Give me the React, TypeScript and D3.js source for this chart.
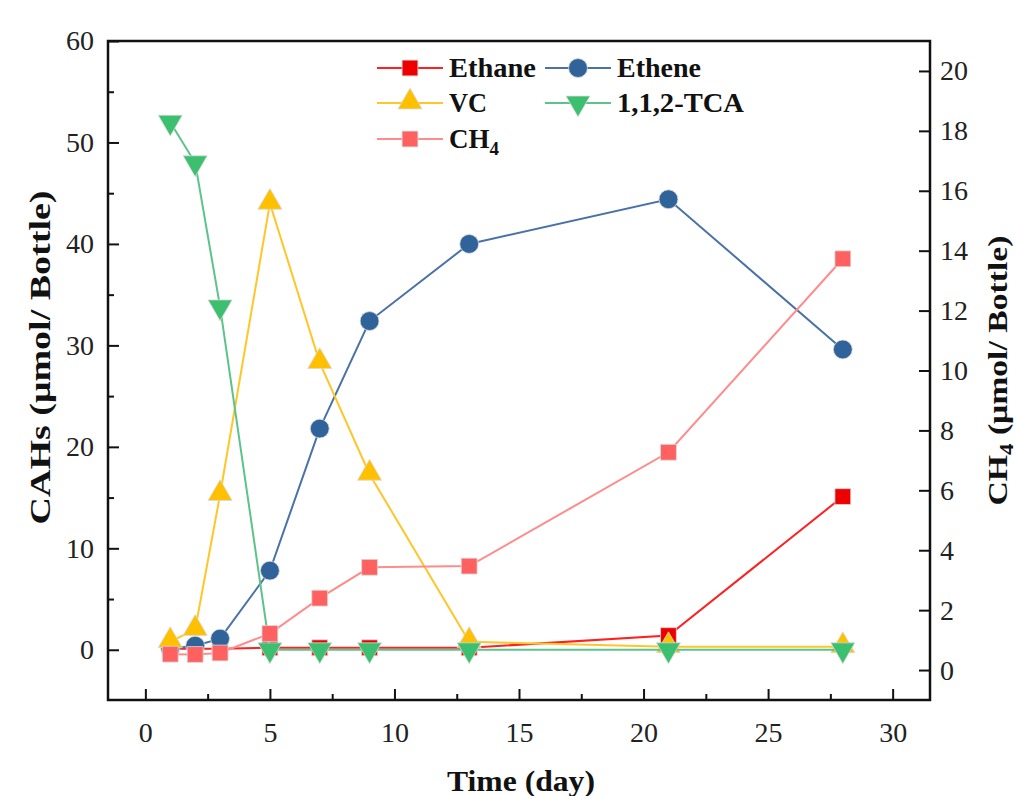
import React, { useEffect, useRef } from "react";
import * as d3 from "d3";

// sampling days
const days = [1, 2, 3, 5, 7, 9, 13, 21, 28];

// left axis series (µmol/bottle)
const ethane = [0.1, 0.1, 0.1, 0.2, 0.2, 0.2, 0.2, 1.4, 15.1];
const ethene = [0.1, 0.4, 1.1, 7.8, 21.8, 32.4, 40.0, 44.4, 29.6];
const vc = [0.8, 2.0, 15.3, 44.0, 28.3, 17.3, 0.8, 0.3, 0.3];
const tca = [52.0, 48.0, 33.8, 0.0, 0.0, 0.0, 0.0, 0.0, 0.0];
// right axis series
const ch4 = [0.53, 0.52, 0.57, 1.22, 2.4, 3.43, 3.47, 7.27, 13.73];

const xTicks = [0, 5, 10, 15, 20, 25, 30];
const yLeftTicks = [0, 10, 20, 30, 40, 50, 60];
const yRightTicks = [0, 2, 4, 6, 8, 10, 12, 14, 16, 18, 20];

const FONT = "'Liberation Serif', 'Times New Roman', serif";

const drawChart = (svgEl) => {
  const svg = d3.select(svgEl);
  svg.selectAll("*").remove();

  const left = 108;
  const right = 930;
  const top = 41;
  const bottom = 700;

  const x = d3.scaleLinear().domain([-1.5, 31.5]).range([left, right]);
  const yL = d3.scaleLinear().domain([-4.95, 60]).range([bottom, top]);
  const yR = d3.scaleLinear().domain([-1, 21]).range([bottom, top]);

  // ticks and labels
  const styleAxis = (g, minor) => {
    g.select(".domain").remove();
    g.selectAll("line").attr("stroke", "#111").attr("stroke-width", 2);
    if (!minor) {
      g.selectAll("text")
        .attr("font-family", FONT)
        .attr("font-size", 28)
        .attr("fill", "#222");
    } else {
      g.selectAll("text").remove();
    }
  };

  svg
    .append("g")
    .attr("transform", `translate(0,${bottom})`)
    .call(d3.axisBottom(x).tickValues(xTicks).tickSize(-11).tickPadding(22))
    .call((g) => styleAxis(g, false));
  svg
    .append("g")
    .attr("transform", `translate(0,${bottom})`)
    .call(
      d3.axisBottom(x).tickValues([2.5, 7.5, 12.5, 17.5, 22.5, 27.5]).tickSize(-6).tickFormat(() => "")
    )
    .call((g) => styleAxis(g, true));

  svg
    .append("g")
    .attr("transform", `translate(${left},0)`)
    .call(d3.axisLeft(yL).tickValues(yLeftTicks).tickSize(-11).tickPadding(14))
    .call((g) => styleAxis(g, false));
  svg
    .append("g")
    .attr("transform", `translate(${left},0)`)
    .call(
      d3.axisLeft(yL).tickValues([5, 15, 25, 35, 45, 55]).tickSize(-6).tickFormat(() => "")
    )
    .call((g) => styleAxis(g, true));

  svg
    .append("g")
    .attr("transform", `translate(${right},0)`)
    .call(d3.axisRight(yR).tickValues(yRightTicks).tickSize(-11).tickPadding(10))
    .call((g) => styleAxis(g, false));

  // frame
  svg
    .append("rect")
    .attr("x", left)
    .attr("y", top)
    .attr("width", right - left)
    .attr("height", bottom - top)
    .attr("fill", "none")
    .attr("stroke", "#111")
    .attr("stroke-width", 2.5);

  const series = [
    { name: "Ethane", values: ethane, y: yL, line: "#ff2020", fill: "#ee0000", sym: "square" },
    { name: "Ethene", values: ethene, y: yL, line: "#4a72a6", fill: "#2f6399", sym: "circle" },
    { name: "VC", values: vc, y: yL, line: "#ffc629", fill: "#ffc000", sym: "up" },
    { name: "1,1,2-TCA", values: tca, y: yL, line: "#5cc48a", fill: "#3cbf6e", sym: "down" },
    { name: "CH4", values: ch4, y: yR, line: "#ff8c8c", fill: "#ff6161", sym: "square" },
  ];

  const symbolPath = (sym) => {
    if (sym === "square") return d3.symbol(d3.symbolSquare, 250)();
    if (sym === "circle") return d3.symbol(d3.symbolCircle, 280)();
    return d3.symbol(d3.symbolTriangle, 250)();
  };
  const symTransform = (sym, px, py) =>
    sym === "down"
      ? `translate(${px},${py}) rotate(180)`
      : sym === "up"
      ? `translate(${px},${py - 1})`
      : `translate(${px},${py})`;

  series.forEach((s) => {
    const line = d3
      .line()
      .x((d, i) => x(days[i]))
      .y((d) => s.y(d));
    svg
      .append("path")
      .datum(s.values)
      .attr("d", line)
      .attr("fill", "none")
      .attr("stroke", s.line)
      .attr("stroke-width", 2);
    svg
      .append("g")
      .selectAll("path")
      .data(s.values)
      .enter()
      .append("path")
      .attr("d", symbolPath(s.sym))
      .attr("transform", (d, i) => symTransform(s.sym, x(days[i]), s.y(d)))
      .attr("fill", s.fill)
      .attr("stroke", "#d8d8d8")
      .attr("stroke-width", 0.8);
  });

  // legend
  const legendPos = [
    [377, 68],
    [545, 68],
    [377, 103],
    [545, 103],
    [377, 139],
  ];
  const legendLen = { Ethane: 87, Ethene: 84, VC: 38, "1,1,2-TCA": 127 };
  series.forEach((s, i) => {
    const [lx, ly] = legendPos[i];
    const g = svg.append("g").attr("transform", `translate(${lx},${ly})`);
    g.append("line")
      .attr("x1", 0)
      .attr("x2", 66)
      .attr("y1", 0)
      .attr("y2", 0)
      .attr("stroke", s.line)
      .attr("stroke-width", 2);
    g.append("path")
      .attr("d", symbolPath(s.sym))
      .attr("transform", symTransform(s.sym, 33, 0))
      .attr("fill", s.fill)
      .attr("stroke", "#d8d8d8")
      .attr("stroke-width", 0.8);
    const t = g
      .append("text")
      .attr("x", 72)
      .attr("y", 9)
      .attr("font-family", FONT)
      .attr("font-weight", "bold")
      .attr("font-size", 27)
      .attr("fill", "#111");
    if (s.name === "CH4") {
      t.append("tspan").text("CH");
      t.append("tspan").attr("font-size", 19).attr("dy", 7).text("4");
    } else {
      t.attr("textLength", legendLen[s.name])
        .attr("lengthAdjust", "spacingAndGlyphs")
        .text(s.name);
    }
  });

  // axis titles
  svg
    .append("text")
    .attr("transform", `translate(50,${(top + bottom) / 2 - 13}) rotate(-90)`)
    .attr("text-anchor", "middle")
    .attr("font-family", FONT)
    .attr("font-weight", "bold")
    .attr("font-size", 29)
    .attr("textLength", 334)
    .attr("lengthAdjust", "spacingAndGlyphs")
    .attr("fill", "#111")
    .text("CAHs (μmol/ Bottle)");

  const rt = svg
    .append("text")
    .attr("transform", `translate(1007,${(top + bottom) / 2}) rotate(-90)`)
    .attr("text-anchor", "middle")
    .attr("font-family", FONT)
    .attr("font-weight", "bold")
    .attr("font-size", 28)
    .attr("textLength", 270)
    .attr("lengthAdjust", "spacingAndGlyphs")
    .attr("fill", "#111");
  rt.append("tspan").text("CH");
  rt.append("tspan").attr("font-size", 19).attr("dy", 6).text("4");
  rt.append("tspan").attr("dy", -6).text(" (μmol/ Bottle)");

  svg
    .append("text")
    .attr("x", (left + right) / 2 + 2)
    .attr("y", 791)
    .attr("text-anchor", "middle")
    .attr("font-family", FONT)
    .attr("font-weight", "bold")
    .attr("font-size", 29)
    .attr("textLength", 148)
    .attr("lengthAdjust", "spacingAndGlyphs")
    .attr("fill", "#111")
    .text("Time (day)");
};

const App = () => {
  const svgRef = useRef(null);

  useEffect(() => {
    drawChart(svgRef.current);
  }, []);

  return (
    <svg
      ref={svgRef}
      width="1016"
      height="796"
      style={{ position: "absolute", left: 0, top: 0, background: "#fff" }}
    ></svg>
  );
};

export default App;
